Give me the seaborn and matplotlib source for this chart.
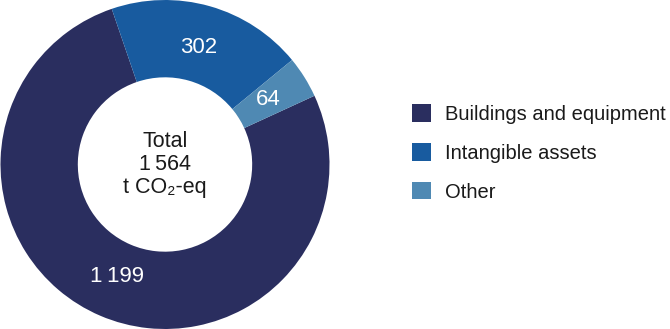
import matplotlib
matplotlib.use("Agg")
import matplotlib.pyplot as plt
from matplotlib.patches import Patch
import seaborn as sns

categories = ["Buildings and equipment", "Intangible assets", "Other"]
emissions = [1199, 302, 64]
colors = ["#2a2e5f", "#185b9f", "#4f89b3"]
total_lines = ["Total", "1\u2009564", "t CO\u2082-eq"]

sns.set_theme(style="white")
plt.rcParams["font.family"] = ["Liberation Sans", "DejaVu Sans"]

fig = plt.figure(figsize=(6.7, 3.29), dpi=100)
ax = fig.add_axes([0.0, 0.0, 330 / 670, 1.0])

total = sum(emissions)


def fmt_value(pct):
    v = int(round(pct * total / 100.0))
    return f"{v:,}".replace(",", "\u2009")


wedges, _, autotexts = ax.pie(
    emissions,
    colors=colors,
    startangle=24.7,
    counterclock=False,
    radius=1.0,
    wedgeprops=dict(width=0.47, edgecolor="none"),
    autopct=fmt_value,
    pctdistance=0.74,
    textprops=dict(color="white", fontsize=16),
)

ax.set_xlim(-1.0, 1.0)
ax.set_ylim(-1.0, 1.0)
ax.set_aspect("equal")
ax.axis("off")

ax.text(0, 0.0, "\n".join(total_lines), ha="center", va="center",
        fontsize=15.5, color="#1a1a1a", linespacing=1.12)

handles = [Patch(facecolor=c, edgecolor="none") for c in colors]
fig.legend(handles, categories, loc="center left",
           bbox_to_anchor=(402 / 670, 1 - 153 / 329),
           frameon=False, fontsize=14.5, handlelength=0.95, handleheight=0.95,
           handletextpad=0.7, labelspacing=0.95, borderpad=0,
           labelcolor="#1a1a1a")

fig.savefig("out.png", dpi=100)
